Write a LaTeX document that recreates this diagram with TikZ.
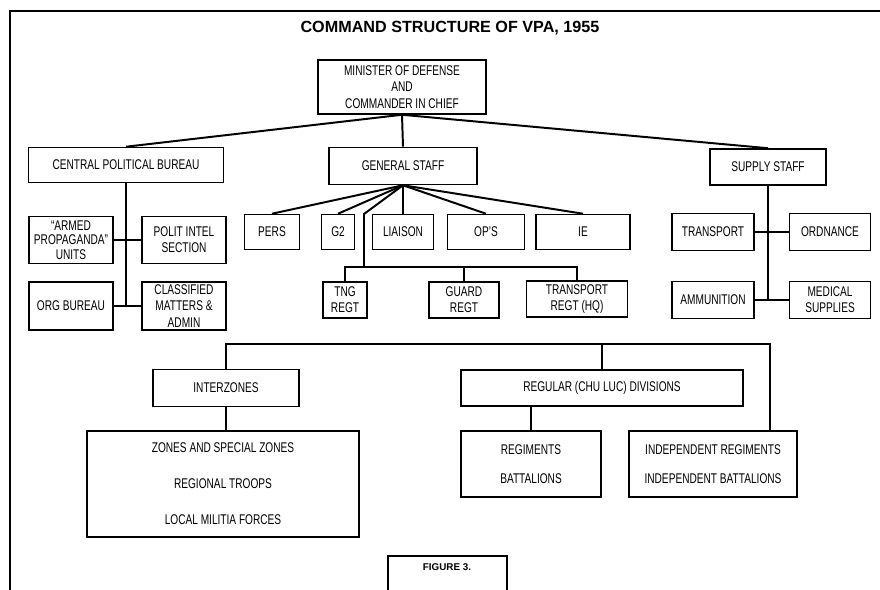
\documentclass[tikz,border=0pt]{standalone}
\usepackage{fontspec}
\setmainfont{Liberation Sans}
\newfontfamily\orgfont[FakeStretch=0.72]{Liberation Sans}
\usepackage{tikz}
\usetikzlibrary{positioning}
\tikzset{
  obox/.style ={rectangle, draw=black, line width=1.1pt, fill=white, text=black, align=center,
                inner sep=1pt, font=\orgfont\fontsize{10}{11.5}\selectfont},
  oline/.style={line width=1.4pt, color=black},
  otitle/.style={font=\bfseries\fontsize{11.5}{13}\selectfont, inner sep=0pt},
  oframe/.style={line width=1.1pt, color=black},
}

\begin{document}
\begin{tikzpicture}[x=0.025cm, y=-0.025cm]
  \useasboundingbox (0,0) rectangle (880,590);
  \draw[oframe] (10,590) -- (10,11) -- (880,11);
  \node[otitle] (title) at (450,28) {COMMAND STRUCTURE OF VPA, 1955};
  % top level
  \node[obox, minimum width=168*0.025cm, minimum height=54*0.025cm] (minister) at (402,87) {MINISTER OF DEFENSE\\AND\\COMMANDER IN CHIEF};
  \node[obox, minimum width=195*0.025cm, minimum height=35*0.025cm] (cpb) at (126,165) {CENTRAL POLITICAL BUREAU};
  \node[obox, minimum width=148*0.025cm, minimum height=37*0.025cm] (gs) at (403,166) {GENERAL STAFF};
  \node[obox, minimum width=116*0.025cm, minimum height=36*0.025cm] (ss) at (768,167) {SUPPLY STAFF};
  % political bureau
  \node[obox, minimum width=84*0.025cm, minimum height=47*0.025cm] (armed) at (71,240) {“ARMED\\[-1pt]PROPAGANDA”\\[-1pt]UNITS};
  \node[obox, minimum width=84*0.025cm, minimum height=47*0.025cm] (polit) at (184,240) {POLIT INTEL\\SECTION};
  \node[obox, minimum width=84*0.025cm, minimum height=48*0.025cm] (org) at (71,306) {ORG BUREAU};
  \node[obox, minimum width=84*0.025cm, minimum height=48*0.025cm] (classified) at (184,306) {CLASSIFIED\\MATTERS \&\\ADMIN};
  % general staff
  \node[obox, minimum width=55*0.025cm, minimum height=35*0.025cm] (pers) at (272,232) {PERS};
  \node[obox, minimum width=33*0.025cm, minimum height=35*0.025cm] (g2) at (338,232) {G2};
  \node[obox, minimum width=61*0.025cm, minimum height=35*0.025cm] (liaison) at (403,232) {LIAISON};
  \node[obox, minimum width=77*0.025cm, minimum height=35*0.025cm] (ops) at (486,232) {OP’S};
  \node[obox, minimum width=94*0.025cm, minimum height=35*0.025cm] (ie) at (583,232) {IE};
  \node[obox, minimum width=44*0.025cm, minimum height=36*0.025cm] (tng) at (345,300) {TNG\\REGT};
  \node[obox, minimum width=70*0.025cm, minimum height=36*0.025cm] (guard) at (464,300) {GUARD\\REGT};
  \node[obox, minimum width=101*0.025cm, minimum height=36*0.025cm] (treg) at (577,299) {TRANSPORT\\REGT (HQ)};
  % supply staff
  \node[obox, minimum width=82*0.025cm, minimum height=37*0.025cm] (transport) at (713,232) {TRANSPORT};
  \node[obox, minimum width=81*0.025cm, minimum height=37*0.025cm] (ordnance) at (830,232) {ORDNANCE};
  \node[obox, minimum width=82*0.025cm, minimum height=37*0.025cm] (ammo) at (713,300) {AMMUNITION};
  \node[obox, minimum width=81*0.025cm, minimum height=37*0.025cm] (medical) at (830,300) {MEDICAL\\SUPPLIES};
  % field forces
  \node[obox, minimum width=146*0.025cm, minimum height=37*0.025cm] (inter) at (226,388) {INTERZONES};
  \node[obox, minimum width=272*0.025cm, minimum height=106*0.025cm] (zones) at (223,484) {ZONES AND SPECIAL ZONES\\[14pt]REGIONAL TROOPS\\[14pt]LOCAL MILITIA FORCES};
  \node[obox, minimum width=282*0.025cm, minimum height=36*0.025cm] (regular) at (602,388) {REGULAR (CHU LUC) DIVISIONS};
  \node[obox, minimum width=140*0.025cm, minimum height=66*0.025cm] (regiments) at (531,464) {REGIMENTS\\[9pt]BATTALIONS};
  \node[obox, minimum width=168*0.025cm, minimum height=66*0.025cm] (indep) at (713,464) {INDEPENDENT REGIMENTS\\[9pt]INDEPENDENT BATTALIONS};
  \node[font=\bfseries\fontsize{7}{8}\selectfont, inner sep=0pt] (figure) at (447,567) {FIGURE 3.};
  \draw[line width=1.1pt] (388,592) |- (507,556) -- (507,592);
  % connectors
  \draw[oline] (minister.south) -- (gs.north);
  \draw[oline] (minister.south) -- (cpb.north);
  \draw[oline] (minister.south) -- (ss.north);
  \draw[oline] (cpb.south) -- (cpb.south |- org.east);
  \draw[oline] (armed.east) -- (polit.west);
  \draw[oline] (org.east) -- (classified.west);
  \draw[oline] (gs.south) -- (pers.north);
  \draw[oline] (gs.south) -- (g2.north);
  \draw[oline] (gs.south) -- (liaison.north);
  \draw[oline] (gs.south) -- (ops.north);
  \draw[oline] (gs.south) -- (ie.north);
  \coordinate (regbus) at (364,267);
  \draw[oline] (gs.south) -- (364,214) -- (regbus);
  \draw[oline] (tng.north) -- (tng.north |- regbus) -- (treg.north |- regbus) -- (treg.north);
  \draw[oline] (guard.north) -- (guard.north |- regbus);
  \draw[oline] (ss.south) -- (ss.south |- medical.west);
  \draw[oline] (transport.east) -- (ordnance.west);
  \draw[oline] (ammo.east) -- (medical.west);
  \coordinate (lowbus) at (770,344);
  \draw[oline] (inter.north) |- (lowbus) -- (lowbus |- indep.north);
  \draw[oline] (regular.north) -- (regular.north |- lowbus);
  \draw[oline] (inter.south) -- (inter.south |- zones.north);
  \draw[oline] (regiments.north) -- (regiments.north |- regular.south);
\end{tikzpicture}
\end{document}
